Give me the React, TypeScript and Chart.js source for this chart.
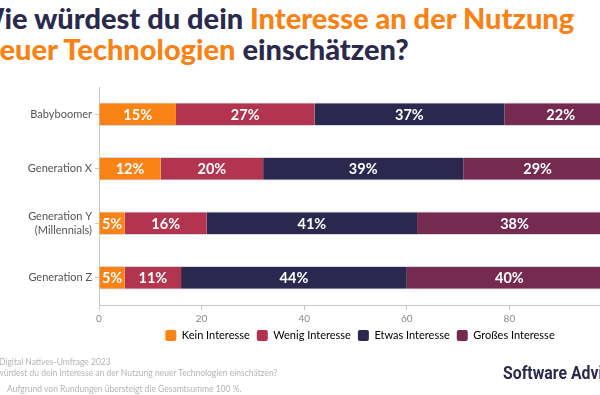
import React, { useEffect, useRef } from "react";
import { Chart, registerables } from "chart.js";

Chart.register(...registerables);

const generations: (string | string[])[] = ["Babyboomer", "Generation X", ["Generation Y", "(Millennials)"], "Generation Z"];
const seriesNames = ["Kein Interesse", "Wenig Interesse", "Etwas Interesse", "Großes Interesse"];
const keinInteresse = [15, 12, 5, 5];
const wenigInteresse = [27, 20, 16, 11];
const etwasInteresse = [37, 39, 41, 44];
const grossesInteresse = [22, 29, 38, 40];
const seriesColors = ["#FB8214", "#B3344F", "#2B2850", "#752A50"];
const xTicks = [0, 20, 40, 60, 80, 100];

const NAVY = "#2B2A4D";
const ORANGE = "#F98216";

const labelPlugin = {
  id: "segLabels",
  afterDatasetsDraw(chart: any) {
    const ctx = chart.ctx;
    ctx.save();
    ctx.fillStyle = "#ffffff";
    ctx.font = "bold 14.5px Lato";
    ctx.textAlign = "center";
    ctx.textBaseline = "middle";
    chart.data.datasets.forEach((ds: any, i: number) => {
      const meta = chart.getDatasetMeta(i);
      meta.data.forEach((el: any, j: number) => {
        const p = el.getProps(["x", "y", "base"], true);
        ctx.fillText(ds.data[j] + "%", (p.x + p.base) / 2, p.y + 1);
      });
    });
    ctx.restore();
  },
};

const titleStyle: React.CSSProperties = {
  position: "absolute",
  whiteSpace: "nowrap",
  fontFamily: "Lato, sans-serif",
  fontWeight: 900,
  fontSize: 29,
  lineHeight: "32px",
  color: NAVY,
};

export default function App() {
  const ref = useRef<HTMLCanvasElement | null>(null);
  useEffect(() => {
    if (!ref.current) return;
    const values = [keinInteresse, wenigInteresse, etwasInteresse, grossesInteresse];
    const chart = new Chart(ref.current, {
      type: "bar",
      data: {
        labels: generations as any,
        datasets: seriesNames.map((name, i) => ({
          label: name,
          data: values[i],
          backgroundColor: seriesColors[i],
          borderColor: "#d6d6de",
          borderWidth: { top: 1, bottom: 1, left: 0, right: 0 },
          borderSkipped: false,
          barThickness: 23,
        })),
      },
      options: {
        indexAxis: "y",
        animation: false,
        responsive: false,
        devicePixelRatio: 1,
        layout: { padding: { top: 87, bottom: 44, left: 0, right: 0 } },
        plugins: {
          legend: {
            position: "bottom",
            labels: {
              boxWidth: 11,
              boxHeight: 11,
              padding: 7,
              color: "#555555",
              font: { family: "Lato", size: 11 },
              useBorderRadius: true,
              borderRadius: 2,
              generateLabels: (chart: any) =>
                chart.data.datasets.map((ds: any, i: number) => ({
                  text: ds.label,
                  fillStyle: ds.backgroundColor,
                  strokeStyle: ds.backgroundColor,
                  lineWidth: 0,
                  borderRadius: 2,
                  datasetIndex: i,
                  hidden: false,
                })),
            },
          },
          tooltip: { enabled: false },
        },
        scales: {
          x: {
            stacked: true,
            min: 0,
            max: 100,
            afterBuildTicks: (s: any) => {
              s.ticks = xTicks.map((v) => ({ value: v }));
            },
            afterFit: (s: any) => {
              s.height = 18;
            },
            grid: { drawOnChartArea: false, drawTicks: true, tickLength: 5, color: "#c8c8c8" },
            border: { display: true, color: "#c8c8c8" },
            ticks: { color: "#8a8a8a", font: { family: "Lato", size: 10 }, padding: 3 },
          },
          y: {
            stacked: true,
            afterFit: (s: any) => {
              s.width = 99;
            },
            grid: { drawOnChartArea: false, drawTicks: true, tickLength: 4, offset: false, color: "#c8c8c8" },
            border: { display: true, color: "#c8c8c8" },
            ticks: { color: "#555555", font: { family: "Lato", size: 11, lineHeight: 1.25 }, padding: 3 },
          },
          yRight: {
            type: "linear",
            position: "right",
            display: true,
            afterFit: (s: any) => {
              s.width = 108;
            },
            grid: { display: false },
            border: { display: false },
            ticks: { display: false },
          },
        },
      } as any,
      plugins: [labelPlugin],
    });
    return () => chart.destroy();
  }, []);

  return (
    <div style={{ position: "fixed", left: 0, top: 0, width: 600, height: 395, overflow: "hidden", background: "#fff" }}>
      <div style={{ ...titleStyle, left: -26, top: 2 }}>
        Wie würdest du dein <span style={{ color: ORANGE }}>Interesse an der Nutzung</span>
      </div>
      <div style={{ ...titleStyle, left: -17, top: 33 }}>
        <span style={{ color: ORANGE }}>neuer Technologien</span> einschätzen?
      </div>
      <canvas ref={ref} width={720} height={395} style={{ position: "absolute", left: 0, top: 0, width: 720, height: 395 }} />
      <div style={{ position: "absolute", left: -1, top: 357, fontFamily: "Lato, sans-serif", fontSize: 8.5, lineHeight: "11px", color: "#b4b4b4", whiteSpace: "nowrap" }}>
        <div>Digital Natives-Umfrage 2023</div>
        <div style={{ marginLeft: -2 }}>würdest du dein Interesse an der Nutzung neuer Technologien einschätzen?</div>
        <div style={{ marginTop: 5, marginLeft: 8 }}>Aufgrund von Rundungen übersteigt die Gesamtsumme 100 %.</div>
      </div>
      <div
        style={{
          position: "absolute",
          left: 503,
          top: 362,
          whiteSpace: "nowrap",
          fontFamily: "Roboto, sans-serif",
          fontWeight: 700,
          fontSize: 18,
          lineHeight: "22px",
          color: NAVY,
          transform: "scaleX(0.88)",
          transformOrigin: "left center",
        }}
      >
        Software Advice
      </div>
    </div>
  );
}
